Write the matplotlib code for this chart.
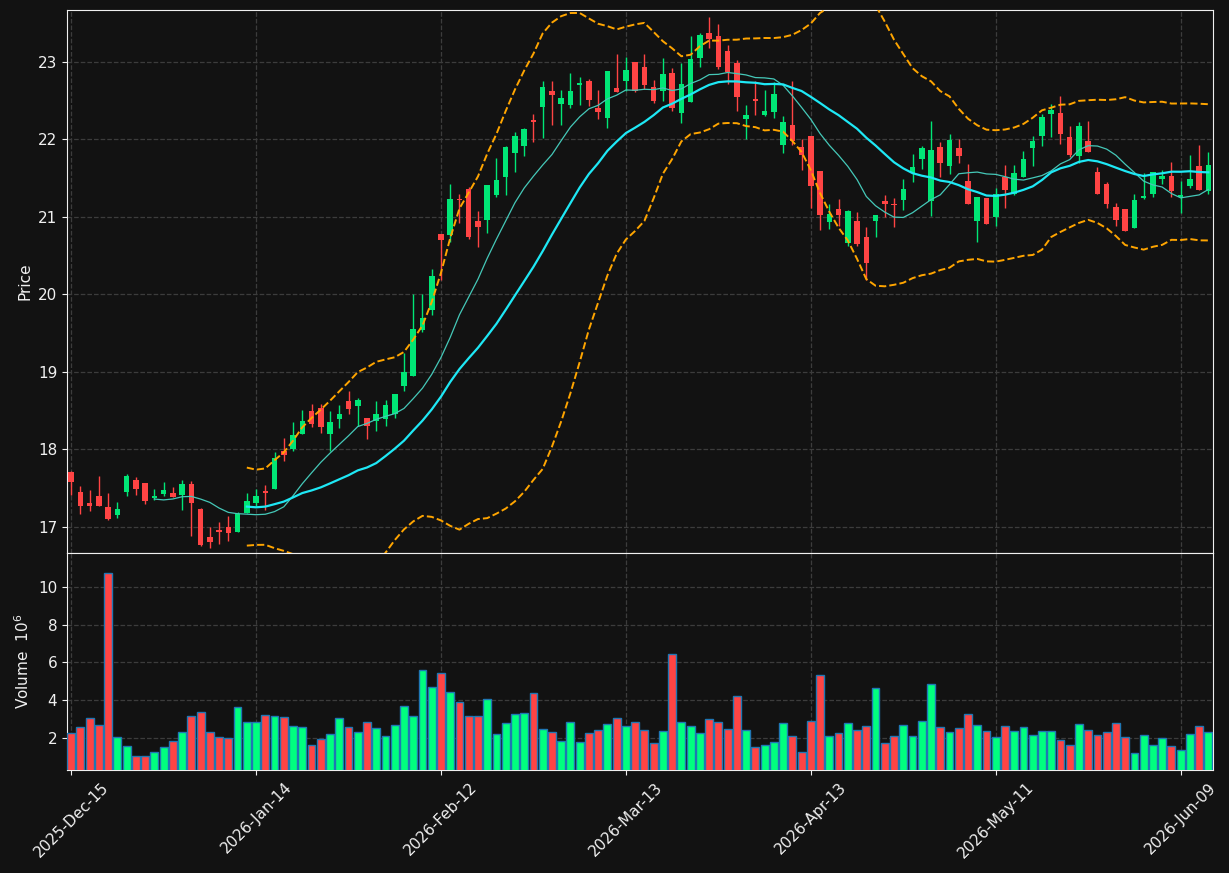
#!/usr/bin/env python3
"""
Candlestick chart with 10/20 SMA, Bollinger bands and volume panel
"""

import matplotlib
matplotlib.use('Agg')
import matplotlib.pyplot as plt
import numpy as np
import pandas as pd

# trading days (NYSE holidays skipped)
holidays = ['2025-12-25', '2026-01-01', '2026-01-19', '2026-02-16',
            '2026-04-03', '2026-05-25']
dates = pd.bdate_range('2025-12-15', periods=124, freq='C', holidays=holidays)

opens = [17.71, 17.45, 17.31, 17.39, 17.25, 17.15, 17.45, 17.60, 17.56, 17.37,
         17.42, 17.43, 17.41, 17.55, 17.23, 16.87, 16.95, 17.00, 16.93, 17.17,
         17.30, 17.45, 17.49, 17.97, 18.00, 18.19, 18.49, 18.53, 18.19, 18.39,
         18.62, 18.56, 18.40, 18.37, 18.39, 18.46, 18.81, 18.94, 19.54, 19.80,
         20.78, 20.76, 21.23, 21.36, 20.94, 20.96, 21.28, 21.52, 21.83, 21.92,
         22.24, 22.42, 22.62, 22.46, 22.44, 22.70, 22.75, 22.41, 22.27, 22.66,
         22.75, 23.00, 22.94, 22.67, 22.62, 22.86, 22.34, 22.48, 23.05, 23.37,
         23.33, 23.14, 22.99, 22.26, 22.52, 22.32, 22.35, 21.93, 22.19, 21.90,
         22.05, 21.59, 20.93, 21.10, 20.66, 20.95, 20.74, 20.95, 21.21, 21.16,
         21.22, 21.56, 21.75, 21.21, 21.90, 21.66, 21.89, 21.46, 20.94, 21.24,
         21.00, 21.52, 21.30, 21.51, 21.89, 22.05, 22.33, 22.34, 22.03, 21.79,
         21.98, 21.58, 21.42, 21.13, 21.10, 20.85, 21.24, 21.30, 21.49, 21.53,
         21.26, 21.40, 21.65, 21.33]
highs = [17.72, 17.52, 17.47, 17.65, 17.43, 17.32, 17.68, 17.64, 17.56, 17.48,
         17.58, 17.51, 17.60, 17.59, 17.24, 17.00, 17.06, 17.14, 17.19, 17.44,
         17.48, 17.54, 17.96, 18.14, 18.35, 18.51, 18.58, 18.58, 18.49, 18.57,
         18.75, 18.66, 18.40, 18.62, 18.64, 18.71, 19.24, 20.00, 20.00, 20.33,
         20.78, 21.43, 21.29, 21.38, 21.07, 21.41, 21.76, 21.91, 22.10, 22.15,
         22.33, 22.76, 22.76, 22.64, 22.86, 22.81, 22.78, 22.64, 22.88, 23.10,
         23.06, 23.00, 23.10, 22.77, 23.05, 22.92, 22.99, 23.33, 23.37, 23.58,
         23.49, 23.22, 23.03, 22.45, 22.75, 22.64, 22.74, 22.30, 22.75, 22.01,
         22.05, 21.59, 21.16, 21.23, 21.09, 21.06, 20.87, 21.03, 21.28, 21.24,
         21.49, 21.81, 21.91, 22.24, 21.96, 22.07, 22.00, 21.68, 21.25, 21.24,
         21.37, 21.67, 21.67, 21.85, 22.04, 22.33, 22.46, 22.56, 22.17, 22.23,
         22.24, 21.64, 21.45, 21.18, 21.10, 21.29, 21.56, 21.58, 21.61, 21.71,
         21.46, 21.80, 21.93, 21.84]
lows = [17.41, 17.16, 17.20, 17.26, 17.08, 17.11, 17.39, 17.41, 17.29, 17.34,
        17.40, 17.38, 17.22, 16.88, 16.75, 16.72, 16.78, 16.81, 16.93, 17.17,
        17.27, 17.21, 17.48, 17.85, 17.98, 18.19, 18.28, 18.21, 17.97, 18.27,
        18.46, 18.30, 18.13, 18.23, 18.30, 18.40, 18.75, 18.94, 19.51, 19.73,
        20.18, 20.67, 20.92, 20.71, 20.61, 20.79, 21.25, 21.28, 21.58, 21.79,
        21.96, 22.02, 22.18, 22.18, 22.41, 22.45, 22.43, 22.26, 22.15, 22.61,
        22.63, 22.61, 22.65, 22.47, 22.49, 22.37, 22.21, 22.48, 22.93, 23.18,
        22.91, 22.72, 22.36, 22.00, 22.32, 22.30, 22.28, 21.82, 21.93, 21.61,
        21.12, 20.83, 20.84, 20.88, 20.62, 20.62, 20.19, 20.74, 21.00, 20.87,
        21.09, 21.45, 21.62, 21.01, 21.52, 21.55, 21.70, 21.16, 20.67, 20.91,
        20.88, 21.11, 21.28, 21.51, 21.65, 21.92, 22.03, 21.94, 21.77, 21.69,
        21.84, 21.30, 21.12, 20.88, 20.82, 20.85, 21.23, 21.26, 21.43, 21.25,
        21.05, 21.37, 21.35, 21.30]
closes = [17.58, 17.26, 17.26, 17.27, 17.10, 17.23, 17.66, 17.48, 17.33, 17.39,
          17.47, 17.38, 17.55, 17.31, 16.76, 16.80, 16.93, 16.92, 17.16, 17.33,
          17.40, 17.44, 17.89, 17.93, 18.18, 18.36, 18.33, 18.28, 18.35, 18.45,
          18.52, 18.63, 18.30, 18.45, 18.57, 18.71, 19.00, 19.55, 19.70, 20.23,
          20.70, 21.23, 21.22, 20.74, 20.87, 21.41, 21.47, 21.90, 22.05, 22.13,
          22.23, 22.67, 22.57, 22.54, 22.62, 22.73, 22.51, 22.35, 22.88, 22.61,
          22.90, 22.63, 22.70, 22.49, 22.84, 22.40, 22.72, 23.04, 23.35, 23.29,
          22.94, 22.87, 22.55, 22.32, 22.50, 22.36, 22.58, 22.23, 21.98, 21.80,
          21.40, 21.03, 21.04, 21.02, 21.08, 20.65, 20.40, 21.03, 21.16, 21.15,
          21.36, 21.64, 21.89, 21.86, 21.70, 21.99, 21.78, 21.16, 21.25, 20.91,
          21.30, 21.35, 21.56, 21.75, 21.98, 22.29, 22.38, 22.07, 21.80, 22.17,
          21.84, 21.30, 21.16, 20.96, 20.82, 21.22, 21.27, 21.58, 21.53, 21.33,
          21.28, 21.49, 21.35, 21.67]
# volume in millions
volumes = [2.26, 2.58, 3.06, 2.69, 10.72, 2.05, 1.58, 1.05, 1.05, 1.26,
           1.52, 1.84, 2.32, 3.16, 3.37, 2.32, 2.05, 2.00, 3.64, 2.85,
           2.85, 3.22, 3.16, 3.11, 2.63, 2.58, 1.63, 1.95, 2.21, 3.06,
           2.58, 2.32, 2.85, 2.53, 2.11, 2.69, 3.69, 3.16, 5.59, 4.70,
           5.44, 4.43, 3.90, 3.16, 3.16, 4.06, 2.21, 2.79, 3.27, 3.32,
           4.38, 2.48, 2.32, 1.84, 2.85, 1.79, 2.26, 2.42, 2.74, 3.06,
           2.63, 2.85, 2.42, 1.74, 2.37, 6.44, 2.85, 2.63, 2.26, 3.00,
           2.85, 2.48, 4.22, 2.42, 1.52, 1.63, 1.79, 2.79, 2.11, 1.26,
           2.90, 5.33, 2.11, 2.26, 2.79, 2.42, 2.63, 4.64, 1.74, 2.11,
           2.69, 2.11, 2.90, 4.85, 2.58, 2.32, 2.53, 3.27, 2.69, 2.37,
           2.05, 2.63, 2.37, 2.58, 2.16, 2.37, 2.37, 1.89, 1.63, 2.74,
           2.42, 2.16, 2.32, 2.79, 2.05, 1.21, 2.16, 1.63, 2.00, 1.58,
           1.37, 2.21, 2.63, 2.32]

BG = '#121212'
UP = '#00e676'
DOWN = '#ff4444'
VOL_UP = '#00ff7f'
GRID = '#3c3c3c'
TXT = '#f0f0f0'


def style_axis(ax):
    ax.set_facecolor(BG)
    for sp in ax.spines.values():
        sp.set_color(TXT)
    ax.tick_params(colors=TXT, labelsize=11)
    ax.grid(True, color=GRID, linestyle='--', linewidth=0.9)
    ax.set_axisbelow(True)


def main():
    df = pd.DataFrame({'Open': opens, 'High': highs, 'Low': lows,
                       'Close': closes, 'Volume': volumes}, index=dates)
    x = np.arange(len(df))
    up = (df['Close'] >= df['Open']).values

    sma10 = df['Close'].rolling(10).mean()
    sma20 = df['Close'].rolling(20).mean()
    std20 = df['Close'].rolling(20).std()
    bb_up = sma20 + 2 * std20
    bb_lo = sma20 - 2 * std20

    fig = plt.figure(figsize=(12.29, 8.73), dpi=100, facecolor=BG)
    ax = fig.add_axes([0.0545, 0.3666, 0.9325, 0.6219])
    axv = fig.add_axes([0.0545, 0.118, 0.9325, 0.2486], sharex=ax)
    style_axis(ax)
    style_axis(axv)

    # candles
    cols = np.where(up, UP, DOWN)
    ax.vlines(x, df['Low'], df['High'], colors=cols, linewidth=1.0, zorder=2)
    body_lo = np.minimum(df['Open'], df['Close'])
    body_h = np.maximum(np.abs(df['Close'] - df['Open']), 0.015)
    ax.bar(x, body_h, bottom=body_lo, width=0.6, color=cols, linewidth=0, zorder=3)

    # moving averages and bands
    ax.plot(x, sma10, color='#45c8b8', linewidth=0.9, zorder=4)
    ax.plot(x, sma20, color='#1ee8f5', linewidth=1.6, zorder=4)
    ax.plot(x, bb_up, color='#ffa500', linestyle='--', linewidth=1.4, zorder=4)
    ax.plot(x, bb_lo, color='#ffa500', linestyle='--', linewidth=1.4, zorder=4)

    ax.set_ylim(16.66, 23.67)
    ax.set_xlim(-0.45, len(df) - 0.5)
    ax.set_ylabel('Price', color=TXT, fontsize=11)
    ax.tick_params(axis='x', labelbottom=False, length=0)

    # volume
    vcols = np.where(up, VOL_UP, DOWN)
    axv.bar(x, df['Volume'], width=0.85, color=vcols, edgecolor='#1f77b4',
            linewidth=1.0, zorder=3)
    axv.set_ylim(0.3 * min(volumes), 1.1 * max(volumes))
    axv.set_yticks([2, 4, 6, 8, 10])
    axv.set_ylabel('Volume  $10^{6}$', color=TXT, fontsize=11)

    ticks = x[::20]
    axv.set_xticks(ticks)
    axv.set_xticklabels([d.strftime('%Y-%b-%d') for d in df.index[::20]],
                        rotation=45, ha='center')

    fig.savefig('out.png', dpi=100, facecolor=BG)


if __name__ == '__main__':
    main()
